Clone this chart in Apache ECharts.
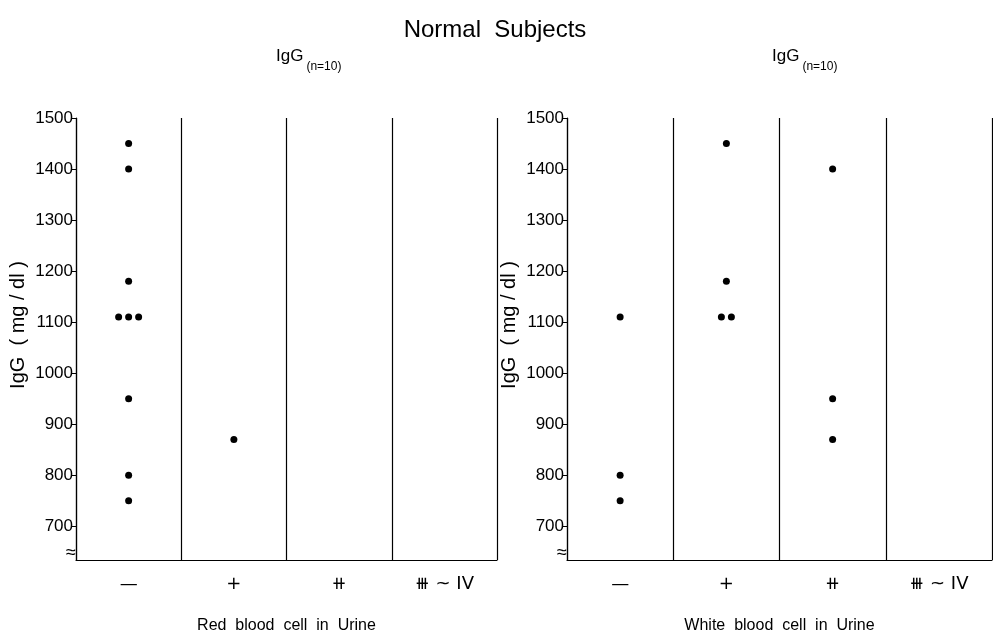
<!DOCTYPE html>
<html><head><meta charset="utf-8">
<script src="https://cdn.jsdelivr.net/npm/echarts@6/dist/echarts.min.js"></script>
<style>html,body{margin:0;padding:0;background:#fff}#c{width:993px;height:639px}</style>
</head><body><div id="c"></div>
<script>
// ---- data ----
const categories = ['—', '+', '⧺', '⧻ ~ IV'];
const yTicks = [700, 800, 900, 1000, 1100, 1200, 1300, 1400, 1500];
// Red blood cell panel: IgG values per category
const rbcNeg = [1450, 1400, 1180, 1110, 1110, 1110, 950, 800, 750];
const rbcPlus = [870];
const rbcPlus2 = [];
const rbcPlus3 = [];
// White blood cell panel
const wbcNeg = [1110, 800, 750];
const wbcPlus = [1450, 1180, 1110, 1110];
const wbcPlus2 = [1400, 950, 870];
const wbcPlus3 = [];

const FONT = '"Liberation Sans", Arial, sans-serif';

function toPoints(groups) {
  const out = [];
  groups.forEach((vals, ci) => {
    const counts = {};
    vals.forEach(v => counts[v] = (counts[v] || 0) + 1);
    const seen = {};
    vals.forEach(v => {
      const n = counts[v];
      const k = seen[v] = (seen[v] === undefined ? 0 : seen[v] + 1);
      const off = n > 1 ? (k - (n - 1) / 2) * 10 : 0;
      out.push({ value: [categories[ci], v], symbolOffset: [off, 0] });
    });
  });
  return out;
}

function xAx(gi, name) {
  return {
    type: 'category', gridIndex: gi, data: categories, boundaryGap: true,
    axisLine: { lineStyle: { color: '#000', width: 1.2 } },
    axisTick: { show: false },
    splitLine: { show: true, lineStyle: { color: '#000', width: 1.2 } },
    axisLabel: { color: '#000', fontSize: 18, fontFamily: '"DejaVu Sans", sans-serif', margin: 15 },
    name: name, nameLocation: 'middle', nameGap: 58,
    nameTextStyle: { color: '#000', fontSize: 16, fontFamily: FONT }
  };
}
function yAx(gi) {
  return {
    type: 'value', gridIndex: gi, min: 634, max: 1500,
    axisLine: { show: true, lineStyle: { color: '#000', width: 1.2 } },
    axisTick: { show: true, customValues: yTicks, length: 5, lineStyle: { color: '#000' } },
    axisLabel: { customValues: yTicks, formatter: v => String(v), color: '#000', fontSize: 17, fontFamily: FONT, margin: 3 },
    splitLine: { show: false },
    name: 'IgG  ( mg / dl )', nameLocation: 'middle', nameGap: 48, nameRotate: 90,
    nameTextStyle: { color: '#000', fontSize: 20, fontFamily: FONT, padding: [0, 0, 0, 28] }
  };
}

const sub = { rich: { a: { fontSize: 17, color: '#000', fontFamily: FONT }, b: { fontSize: 12, color: '#000', fontFamily: FONT, padding: [22, 0, 0, 3] } }, fontWeight: 'normal' };

const chart = echarts.init(document.getElementById('c'));
chart.setOption({
  backgroundColor: '#fff',
  animation: false,
  title: [
    { text: 'Normal  Subjects', left: 490, top: 13, textAlign: 'center',
      textStyle: { fontSize: 24, fontWeight: 'normal', color: '#000', fontFamily: FONT } },
    { text: '{a|IgG}{b|(n=10)}', left: 271, top: 34, textStyle: sub },
    { text: '{a|IgG}{b|(n=10)}', left: 767, top: 34, textStyle: sub }
  ],
  grid: [
    { left: 76, right: 496, top: 118, bottom: 75 },
    { left: 567, right: 1, top: 118, bottom: 75 }
  ],
  xAxis: [xAx(0, 'Red  blood  cell  in  Urine'), xAx(1, 'White  blood  cell  in  Urine')],
  yAxis: [yAx(0), yAx(1)],
  graphic: [
    { type: 'text', left: 66, top: 544, style: { text: '≈', fontSize: 18, fill: '#000' } },
    { type: 'text', left: 557, top: 544, style: { text: '≈', fontSize: 18, fill: '#000' } }
  ],
  series: [
    { type: 'scatter', xAxisIndex: 0, yAxisIndex: 0, symbolSize: 7, itemStyle: { color: '#000', opacity: 1 },
      data: toPoints([rbcNeg, rbcPlus, rbcPlus2, rbcPlus3]) },
    { type: 'scatter', xAxisIndex: 1, yAxisIndex: 1, symbolSize: 7, itemStyle: { color: '#000', opacity: 1 },
      data: toPoints([wbcNeg, wbcPlus, wbcPlus2, wbcPlus3]) }
  ]
});
</script>
</body></html>
